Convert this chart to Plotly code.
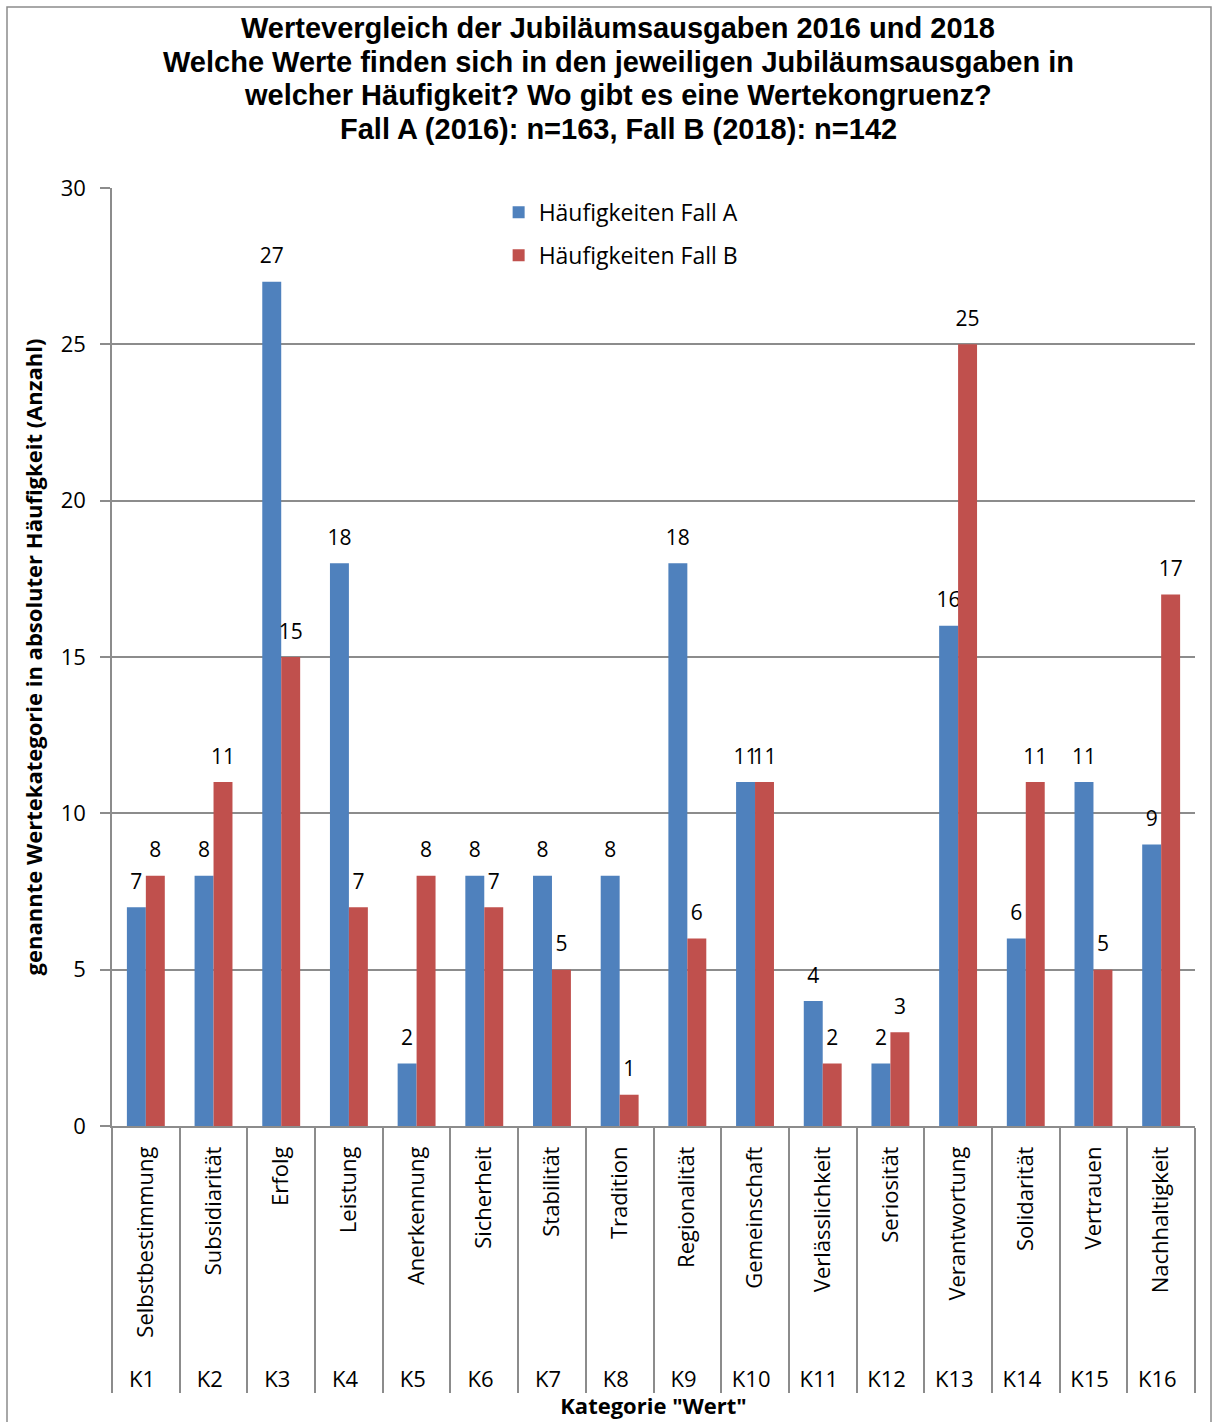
import plotly.graph_objects as go

codes = ["K1","K2","K3","K4","K5","K6","K7","K8","K9","K10","K11","K12","K13","K14","K15","K16"]
names = ["Selbstbestimmung","Subsidiarität","Erfolg","Leistung","Anerkennung","Sicherheit",
         "Stabilität","Tradition","Regionalität","Gemeinschaft","Verlässlichkeit","Seriosität",
         "Verantwortung","Solidarität","Vertrauen","Nachhaltigkeit"]
fall_a = [7, 8, 27, 18, 2, 8, 8, 8, 18, 11, 4, 2, 16, 6, 11, 9]
fall_b = [8, 11, 15, 7, 8, 7, 5, 1, 6, 11, 2, 3, 25, 11, 5, 17]
title_lines = ["Wertevergleich der Jubiläumsausgaben 2016 und 2018",
               "Welche Werte finden sich in den jeweiligen Jubiläumsausgaben in",
               "welcher Häufigkeit? Wo gibt es eine Wertekongruenz?",
               "Fall A (2016): n=163, Fall B (2018): n=142"]

FONT = "Open Sans"
GRAY = "#8c8c8c"
# leading no-break spaces pad the rotated labels so the K row sits lower (as in the reference)
x = [codes, ["\u00a0\u00a0\u00a0" + n for n in names]]

fig = go.Figure()
for vals, nm, col, grp in [(fall_a, "Häufigkeiten Fall A", "#4F81BD", "a"),
                           (fall_b, "Häufigkeiten Fall B", "#C0504D", "b")]:
    fig.add_trace(go.Bar(x=x, y=vals, name=nm, marker_color=col, marker_line_width=0,
                         offsetgroup=grp, legendgroup=grp))
    # transparent label carrier sitting on top of each bar (gives the label gap)
    fig.add_trace(go.Bar(x=x, y=[0.3] * len(vals), base=vals, text=vals,
                         textposition="outside", constraintext="none", cliponaxis=False,
                         textfont=dict(family=FONT, size=21, color="black"),
                         marker_color="rgba(0,0,0,0)", marker_line_width=0,
                         offsetgroup=grp, legendgroup=grp, showlegend=False,
                         hoverinfo="skip"))

# title lines (paper coordinates relative to plot area)
for i, line in enumerate(title_lines):
    fig.add_annotation(text=line, xref="paper", yref="paper", x=(618 - 112) / 1083,
                       y=(1126 - (28 + 33.7 * i)) / 938, xanchor="center", yanchor="middle",
                       showarrow=False,
                       font=dict(family="Liberation Sans", size=29, color="black", weight="bold"))

fig.update_layout(
    width=1214, height=1422,
    margin=dict(l=112, r=19, t=188, b=296),
    paper_bgcolor="white", plot_bgcolor="white",
    barmode="group", bargap=0.44, bargroupgap=0,
    legend=dict(x=0.357, y=0.997, xanchor="left", yanchor="top",
                font=dict(family=FONT, size=23, color="black"),
                bgcolor="rgba(0,0,0,0)", tracegroupgap=10, traceorder="grouped"),
)

fig.update_yaxes(range=[0, 30], dtick=5, showgrid=True, gridcolor=GRAY, gridwidth=1.5,
                 showline=True, linecolor=GRAY, linewidth=1.5,
                 ticks="outside", ticklen=10, tickcolor=GRAY, tickwidth=1.5,
                 ticklabelstandoff=10, automargin=False,
                 tickfont=dict(family=FONT, size=22, color="black"),
                 zeroline=False,
                 title=dict(text="genannte Wertekategorie in absoluter Häufigkeit (Anzahl)",
                            font=dict(family=FONT, size=22, color="black", weight="bold"),
                            standoff=12))
fig.update_xaxes(showline=True, linecolor=GRAY, linewidth=1.5, automargin=False,
                 tickangle=-90, tickfont=dict(family=FONT, size=22, color="black"),
                 ticklabelstandoff=10,
                 showdividers=True, dividercolor=GRAY, dividerwidth=1.5,
                 title=dict(text='Kategorie "Wert"',
                            font=dict(family=FONT, size=22, color="black", weight="bold"),
                            standoff=7))

# outer chart frame
fig.add_shape(type="rect", xref="paper", yref="paper",
              x0=(7 - 112) / 1083, x1=(1211 - 112) / 1083,
              y0=(1126 - 1440) / 938, y1=(1126 - 7) / 938,
              line=dict(color=GRAY, width=1.5), layer="below")

fig.write_html("out.html")
